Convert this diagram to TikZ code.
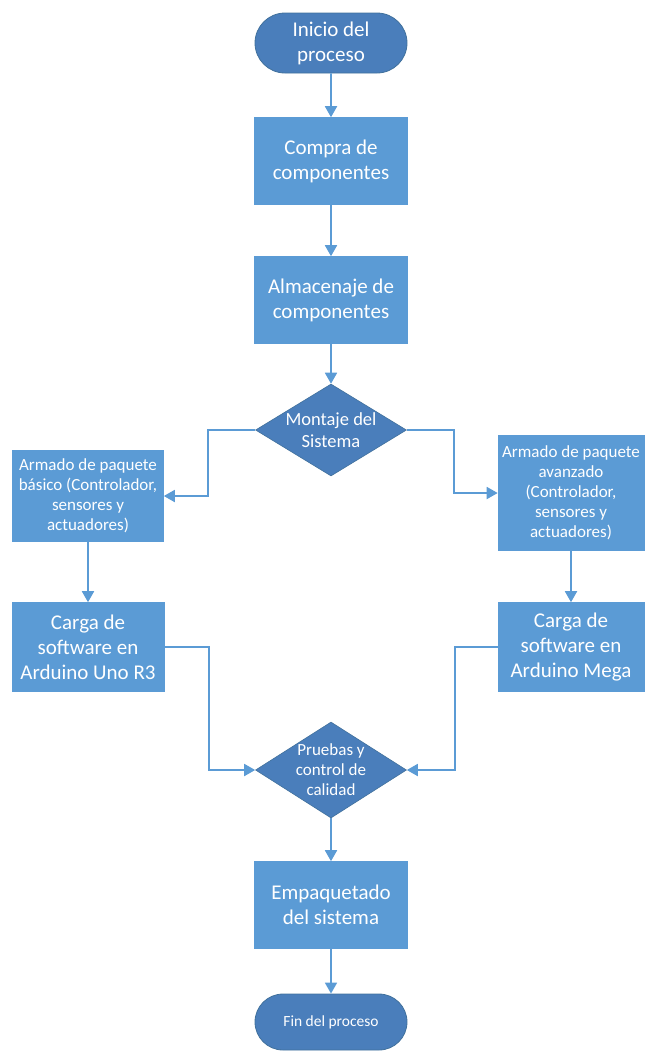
\documentclass[tikz,border=0pt]{standalone}
\usepackage{fontspec}
\setmainfont{Carlito}
\usepackage{xcolor}
\definecolor{fcblue}{HTML}{5B9BD5}
\definecolor{fcdark}{HTML}{4A7EBB}
\definecolor{fcedge}{HTML}{41719C}
\usepackage{tikz}
\usetikzlibrary{arrows.meta,positioning,shapes.geometric,shapes.misc}
\tikzset{
  fcbox/.style  ={rectangle, draw=fcblue, fill=fcblue, line width=0.6pt,
                  minimum width=153pt, minimum height=87pt, inner sep=0pt,
                  align=center, text=white, font=\fontsize{21}{25}\selectfont},
  fcside/.style ={fcbox, minimum width=151pt, minimum height=91pt,
                  font=\fontsize{17}{20}\selectfont},
  fcterm/.style ={rounded rectangle, draw=fcedge, fill=fcdark, line width=0.8pt,
                  minimum width=152pt, minimum height=60pt, inner sep=0pt,
                  align=center, text=white, font=\fontsize{21}{25}\selectfont},
  fcdec/.style  ={diamond, draw=fcedge, fill=fcdark, line width=0.6pt,
                  minimum width=151pt, minimum height=92pt, inner sep=0pt},
  fcdectext/.style={align=center, text=white, font=\fontsize{17}{20}\selectfont},
  fcarrow/.style={-{Triangle[length=11pt,width=12pt]}, line width=1.8pt, draw=fcblue},
}

\begin{document}
\begin{tikzpicture}[x=1pt, y=-1pt]
  \useasboundingbox (0,0) rectangle (646,1053);
  % eje central
  \node[fcterm] (ini) at (331,43) {Inicio del\\proceso};
  \node[fcbox] (compra) at (331,161) {Compra de\\componentes};
  \node[fcbox] (alm) at (331,300) {Almacenaje de\\componentes};
  \node[fcdec, label={[fcdectext, font=\fontsize{18.5}{22}\selectfont]center:Montaje del\\Sistema}] (mont) at (331,430) {};
  % ramas
  \node[fcside] (basico) at (88,496) {Armado de paquete\\básico (Controlador,\\sensores y\\actuadores)};
  \node[fcside, minimum width=146pt, minimum height=115pt] (avanz) at (571,493)
       {Armado de paquete\\avanzado\\(Controlador,\\sensores y\\actuadores)};
  \node[fcbox, minimum width=152pt, minimum height=89pt] (uno) at (88,647) {Carga de\\software en\\Arduino Uno R3};
  \node[fcbox, minimum width=146pt, minimum height=89pt] (mega) at (571,647) {Carga de\\software en\\Arduino Mega};
  % cierre
  \node[fcdec, minimum height=96pt, label={[fcdectext]center:Pruebas y\\control de\\calidad}] (prueb) at (331,770) {};
  \node[fcbox] (empaq) at (331,905) {Empaquetado\\del sistema};
  \node[fcterm, minimum height=56pt, font=\fontsize{15.5}{18}\selectfont] (fin) at (331,1022) {Fin del proceso};

  \draw[fcarrow] (ini) -- (compra);
  \draw[fcarrow] (compra) -- (alm);
  \draw[fcarrow] (alm) -- (mont);
  \draw[fcarrow] (mont.west) -- ++(-47,0) |- (basico.east);
  \draw[fcarrow] (mont.east) -- ++(47,0) |- (avanz.west);
  \draw[fcarrow] (basico) -- (uno);
  \draw[fcarrow] (avanz) -- (mega);
  \draw[fcarrow] (uno.east) -- ++(45,0) |- (prueb.west);
  \draw[fcarrow] (mega.west) -- ++(-43,0) |- (prueb.east);
  \draw[fcarrow] (prueb) -- (empaq);
  \draw[fcarrow] (empaq) -- (fin);
\end{tikzpicture}
\end{document}
